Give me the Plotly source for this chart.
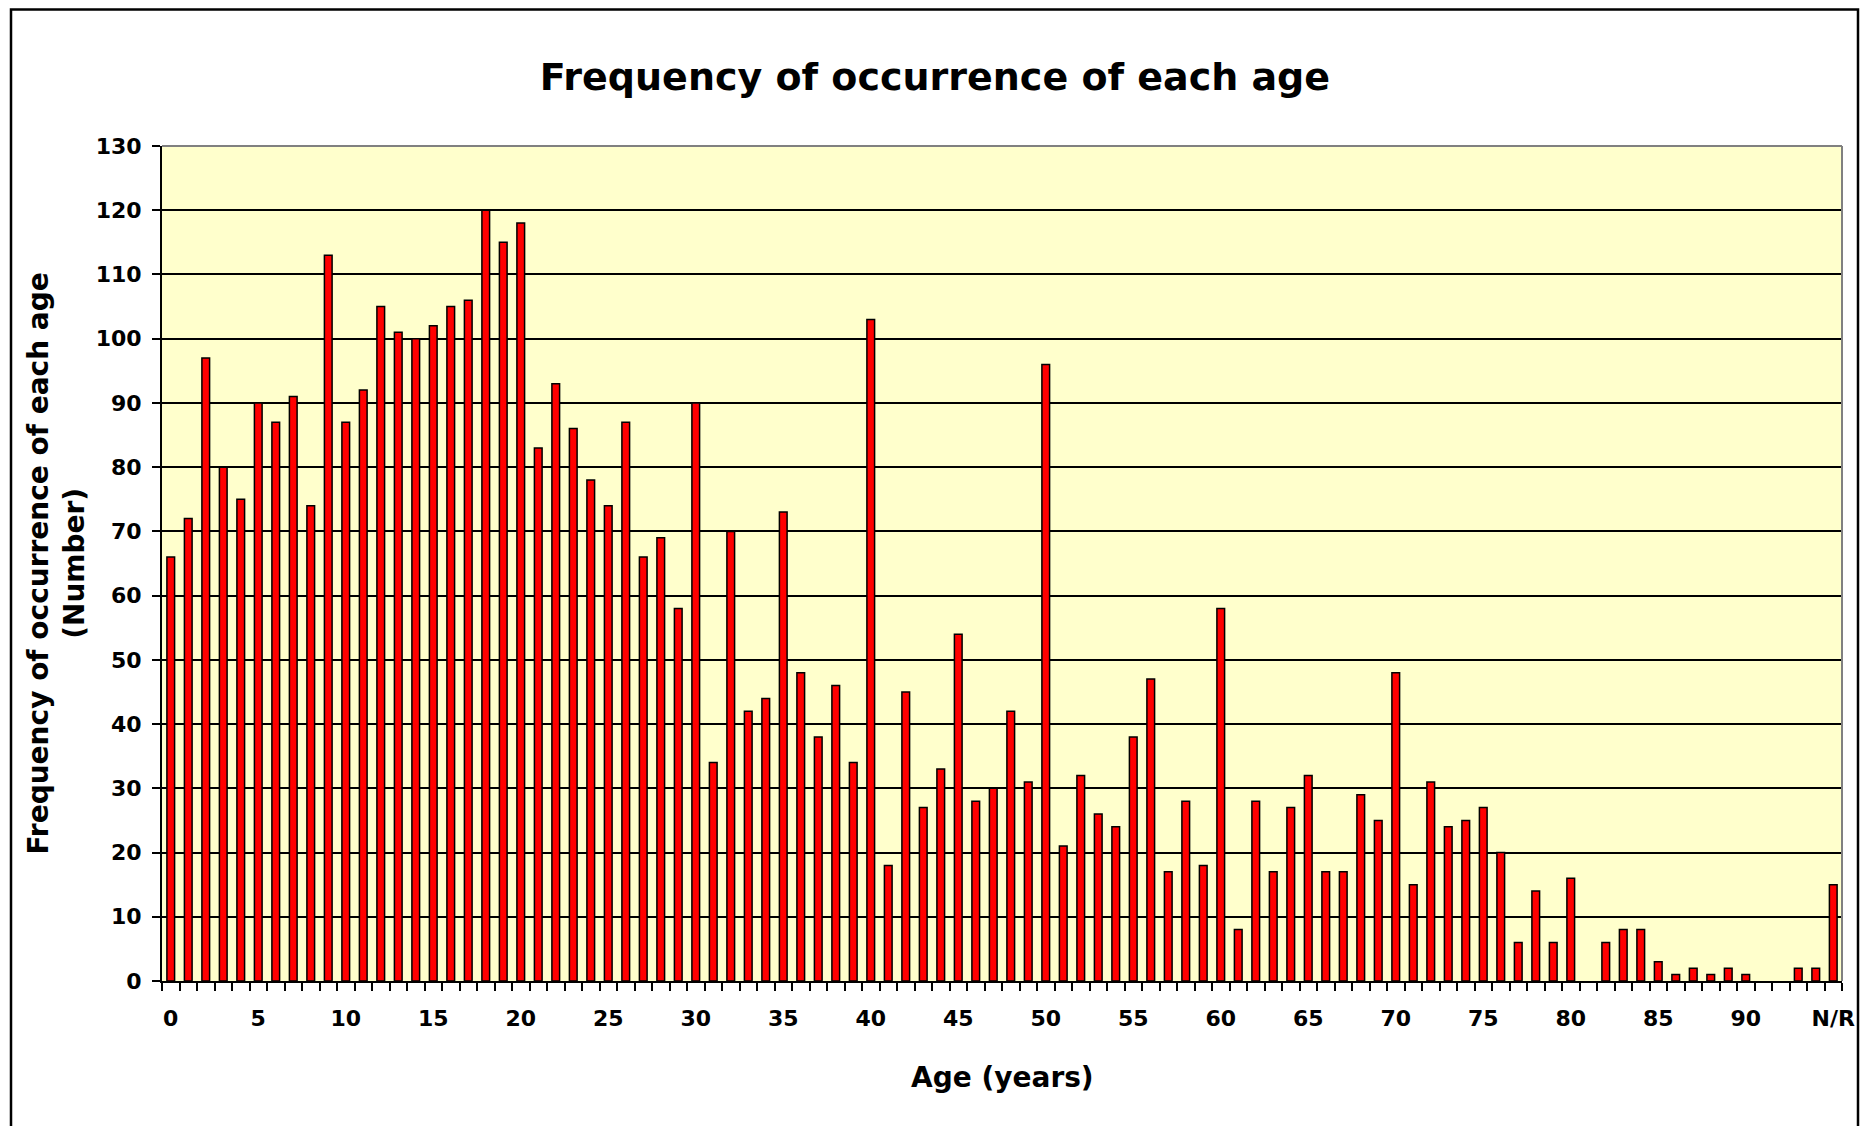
import plotly.graph_objects as go

# ---- data ----
ages = [str(a) for a in range(95)] + ["N/R"]
counts = [66, 72, 97, 80, 75, 90, 87, 91, 74, 113,
          87, 92, 105, 101, 100, 102, 105, 106, 120, 115,
          118, 83, 93, 86, 78, 74, 87, 66, 69, 58,
          90, 34, 70, 42, 44, 73, 48, 38, 46, 34,
          103, 18, 45, 27, 33, 54, 28, 30, 42, 31,
          96, 21, 32, 26, 24, 38, 47, 17, 28, 18,
          58, 8, 28, 17, 27, 32, 17, 17, 29, 25,
          48, 15, 31, 24, 25, 27, 20, 6, 14, 6,
          16, 0, 6, 8, 8, 3, 1, 2, 1, 2,
          1, 0, 0, 2, 2, 15]
tick_labels = ["0", "5", "10", "15", "20", "25", "30", "35", "40", "45",
               "50", "55", "60", "65", "70", "75", "80", "85", "90", "N/R"]
y_ticks = list(range(0, 131, 10))

title_text = "Frequency of occurrence of each age"
y_title = "Frequency of occurrence of each age<br>(Number)"
x_title = "Age (years)"

# ---- geometry ----
W, H = 1861, 1126
L, R, T, B = 162, 1842, 146, 981
FONT = "DejaVu Sans"

pos = list(range(len(ages)))
label_pos = [ages.index(t) for t in tick_labels]
outline = [1.5 if c > 0 else 0 for c in counts]

fig = go.Figure(go.Bar(
    x=pos, y=counts,
    marker=dict(color="#FF0000", line=dict(color="black", width=outline)),
    hoverinfo="x+y",
))

def px_x(p):
    return (p - L) / (R - L)

def px_y(p):
    return (B - p) / (B - T)

fig.update_layout(
    width=W, height=H,
    margin=dict(l=L, r=W - R, t=T, b=H - B, autoexpand=False),
    paper_bgcolor="white",
    plot_bgcolor="#FFFFCC",
    bargap=0.56,
    showlegend=False,
    font=dict(family=FONT, color="black"),
    title=dict(text="<b>" + title_text + "</b>", x=0.5024, xref="container",
               xanchor="center", y=1 - 77 / H, yref="container", yanchor="middle",
               font=dict(size=38, family=FONT, color="black")),
    xaxis=dict(
        range=[-0.5, len(ages) - 0.5],
        tickmode="array", tickvals=label_pos, ticktext=["<b>%s</b>" % t for t in tick_labels],
        ticks="", showgrid=False, zeroline=False,
        showline=True, linecolor="black", linewidth=2,
        tickfont=dict(size=22, family=FONT, color="black"),
        ticklabelstandoff=17,
        minor=dict(tickmode="array", tickvals=[i - 0.5 for i in range(len(ages) + 1)],
                   ticks="outside", ticklen=8, tickwidth=2, tickcolor="black",
                   showgrid=False),
        fixedrange=True,
    ),
    yaxis=dict(
        range=[0, 130],
        tickmode="array", tickvals=y_ticks, ticktext=["<b>%d</b>" % v for v in y_ticks],
        ticks="outside", ticklen=8, tickwidth=2, tickcolor="black",
        showgrid=True, gridcolor="black", gridwidth=1.5,
        zeroline=False,
        showline=True, linecolor="black", linewidth=2,
        tickfont=dict(size=22, family=FONT, color="black"),
        ticklabelstandoff=6,
        fixedrange=True,
    ),
    annotations=[
        dict(text="<b>" + y_title + "</b>", xref="paper", yref="paper",
             x=px_x(56), y=0.5, xanchor="center", yanchor="middle",
             textangle=-90, showarrow=False,
             font=dict(size=28, family=FONT, color="black")),
        dict(text="<b>" + x_title + "</b>", xref="paper", yref="paper",
             x=0.5, y=px_y(1077), xanchor="center", yanchor="middle",
             showarrow=False,
             font=dict(size=28, family=FONT, color="black")),
    ],
    shapes=[
        dict(type="line", xref="paper", yref="paper", x0=0, x1=1, y0=1, y1=1,
             line=dict(color="#808080", width=2), layer="above"),
        dict(type="line", xref="paper", yref="paper", x0=1, x1=1, y0=0, y1=1,
             line=dict(color="#808080", width=2), layer="above"),
        dict(type="rect", xref="paper", yref="paper",
             x0=px_x(11), x1=px_x(1858), y0=px_y(1135), y1=px_y(9.5),
             line=dict(color="black", width=2.5), fillcolor="rgba(0,0,0,0)",
             layer="below"),
    ],
)

fig.write_html("out.html", config={"displayModeBar": False},
               post_script="document.body.style.margin='0';document.body.style.overflow='hidden';")
